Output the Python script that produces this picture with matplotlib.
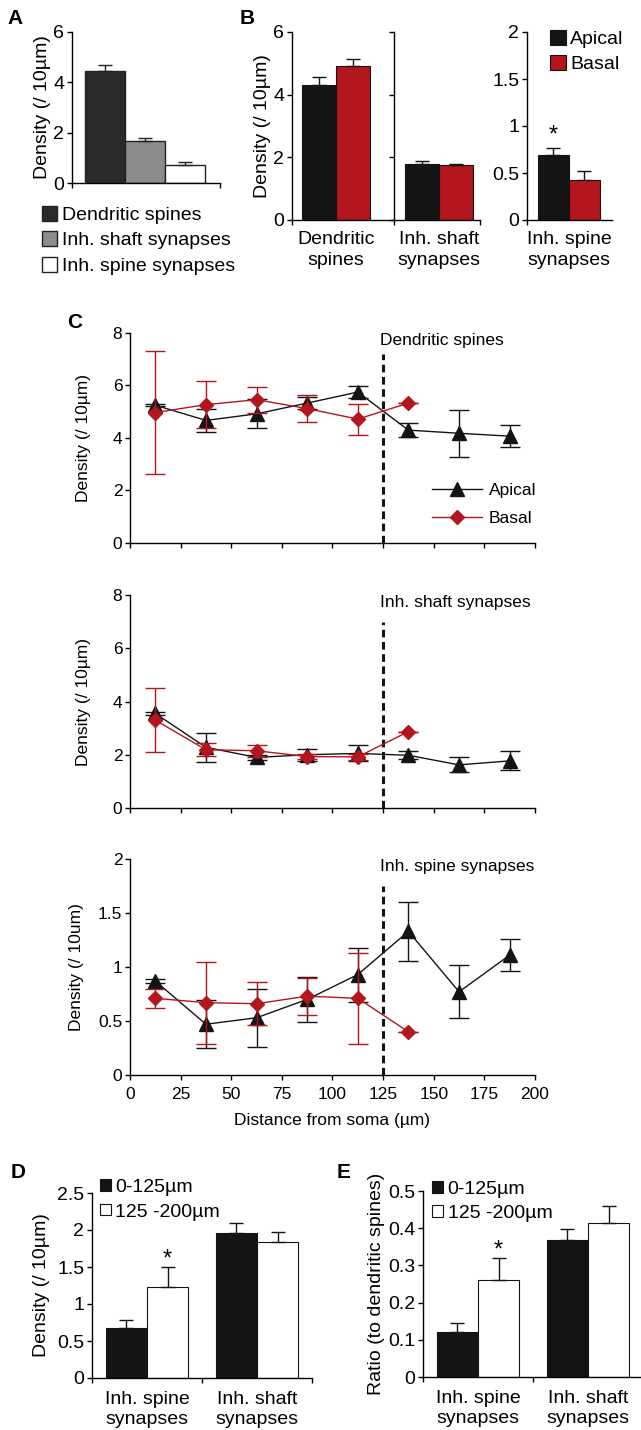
import matplotlib
matplotlib.use('Agg')
import matplotlib.pyplot as plt
from matplotlib.lines import Line2D
import numpy as np

plt.rcParams['font.family'] = ['Liberation Sans', 'DejaVu Sans']
plt.rcParams['font.size'] = 14
plt.rcParams['axes.linewidth'] = 1.0

# ---------------- data ----------------
# Panel A
a_categories = ['Dendritic spines', 'Inh. shaft synapses', 'Inh. spine synapses']
a_values = [4.45, 1.67, 0.73]
a_errors = [0.22, 0.10, 0.10]
a_colors = ['#2a2a2a', '#8c8c8c', '#ffffff']

# Panel B
b_groups = ['Dendritic\nspines', 'Inh. shaft\nsynapses', 'Inh. spine\nsynapses']
b_apical = [4.30, 1.80, 0.69]
b_apical_err = [0.25, 0.08, 0.08]
b_basal = [4.90, 1.75, 0.43]
b_basal_err = [0.23, 0.04, 0.09]

# Panel C
c_distance = [12.5, 37.5, 62.5, 87.5, 112.5, 137.5, 162.5, 187.5]
c_spines_apical = [5.25, 4.67, 4.92, 5.33, 5.75, 4.30, 4.18, 4.07]
c_spines_apical_err = [0.05, 0.45, 0.55, 0.22, 0.22, 0.27, 0.90, 0.41]
c_spines_basal = [4.97, 5.27, 5.46, 5.12, 4.72, 5.33]
c_spines_basal_err = [2.33, 0.90, 0.49, 0.51, 0.59, 0.0]

c_shaft_apical = [3.55, 2.28, 1.90, 2.00, 2.05, 1.98, 1.62, 1.77]
c_shaft_apical_err = [0.05, 0.55, 0.10, 0.22, 0.30, 0.15, 0.28, 0.36]
c_shaft_basal = [3.30, 2.19, 2.15, 1.93, 1.92, 2.87]
c_shaft_basal_err = [1.21, 0.25, 0.23, 0.10, 0.10, 0.0]

c_inh_apical = [0.87, 0.47, 0.53, 0.70, 0.93, 1.33, 0.77, 1.11]
c_inh_apical_err = [0.02, 0.22, 0.27, 0.21, 0.25, 0.27, 0.245, 0.145]
c_inh_basal = [0.71, 0.67, 0.66, 0.73, 0.71, 0.40]
c_inh_basal_err = [0.09, 0.38, 0.20, 0.17, 0.42, 0.0]
c_titles = ['Dendritic spines', 'Inh. shaft synapses', 'Inh. spine synapses']
c_boundary = 125

# Panels D, E
de_groups = ['Inh. spine\nsynapses', 'Inh. shaft\nsynapses']
de_labels = ['0-125\u00b5m', '125 -200\u00b5m']
d_near = [0.67, 1.96]
d_near_err = [0.11, 0.14]
d_far = [1.225, 1.835]
d_far_err = [0.275, 0.135]
e_near = [0.12, 0.368]
e_near_err = [0.026, 0.029]
e_far = [0.262, 0.415]
e_far_err = [0.057, 0.045]

BLACK = '#141414'
RED = '#b3161c'
W, H = 641, 1430
fig = plt.figure(figsize=(W / 100, H / 100), dpi=100)


def ax_px(l, t, r, b):
    return fig.add_axes([l / W, 1 - b / H, (r - l) / W, (b - t) / H])


def clean(ax, fs=14):
    ax.spines['top'].set_visible(False)
    ax.spines['right'].set_visible(False)
    ax.tick_params(direction='out', width=1.0, length=3.5, pad=2, labelsize=fs)


# ---------------- Panel A ----------------
axA = ax_px(72, 32, 220, 183)
clean(axA)
xa = np.arange(len(a_values))
bars = axA.bar(xa, a_values, width=1.0, color=a_colors, edgecolor='#222222', linewidth=1.0,
               yerr=[np.zeros(3), a_errors], capsize=5,
               error_kw=dict(ecolor='#222222', elinewidth=1, capthick=1))
axA.set_xlim(-0.83, 2.88)
axA.set_ylim(0, 6)
axA.set_yticks([0, 2, 4, 6])
axA.set_xticks([-0.83, 2.88])
axA.set_xticklabels([])
axA.set_ylabel('Density (/ 10\u00b5m)', labelpad=2)
for b, lab in zip(bars, a_categories):
    b.set_label(lab)
axA.legend(handles=list(bars), loc='upper left', bbox_to_anchor=(-0.205, -0.15), frameon=False,
           handlelength=0.8, handleheight=0.8, handletextpad=0.25, labelspacing=0.38, borderpad=0,
           borderaxespad=0, fontsize=14)

# ---------------- Panel B ----------------
b_specs = [
    (292, 394, -1.29, 1.70, (0, 6), [0, 2, 4, 6], True),
    (394, 480, -1.32, 1.21, (0, 6), [0, 2, 4, 6], False),
    (527, 612, -1.35, 1.39, (0, 2), [0, 0.5, 1, 1.5, 2], True),
]
axesB = []
for i, (l, r, x0, x1, ylim, yt, showlab) in enumerate(b_specs):
    ax = ax_px(l, 32, r, 220)
    clean(ax)
    ax.bar(-0.5, b_apical[i], width=1.0, color=BLACK, edgecolor=BLACK, linewidth=0.8,
           yerr=[[0], [b_apical_err[i]]], capsize=5,
           error_kw=dict(ecolor=BLACK, elinewidth=1, capthick=1), label='Apical')
    ax.bar(0.5, b_basal[i], width=1.0, color=RED, edgecolor=BLACK, linewidth=0.8,
           yerr=[[0], [b_basal_err[i]]], capsize=5,
           error_kw=dict(ecolor=BLACK, elinewidth=1, capthick=1), label='Basal')
    ax.set_xlim(x0, x1)
    ax.set_ylim(*ylim)
    ax.set_yticks(yt)
    if not showlab:
        ax.set_yticklabels([])
    else:
        ax.set_yticklabels([('%g' % v) for v in yt])
    if i == 1:
        ax.set_xticks([x0, x1])
    else:
        ax.set_xticks([x0])
    ax.set_xticklabels([])
    ax.text(0.0, -0.06, b_groups[i], transform=ax.get_xaxis_transform(), ha='center', va='top',
            fontsize=14, linespacing=1.25)
    axesB.append(ax)
axesB[0].set_ylabel('Density (/ 10\u00b5m)', labelpad=2)
axesB[2].text(-0.5, b_apical[2] + b_apical_err[2] + 0.01, '*', ha='center', va='bottom', fontsize=17)
axesB[2].legend(loc='upper left', bbox_to_anchor=(0.27, 1.01), frameon=False, handlelength=0.8,
                handleheight=0.8, handletextpad=0.25, labelspacing=0.33, borderpad=0, borderaxespad=0,
                fontsize=14)

# ---------------- Panel C ----------------
CFS = 12.5
c_sets = [
    (c_spines_apical, c_spines_apical_err, c_spines_basal, c_spines_basal_err, 8, [0, 2, 4, 6, 8]),
    (c_shaft_apical, c_shaft_apical_err, c_shaft_basal, c_shaft_basal_err, 8, [0, 2, 4, 6, 8]),
    (c_inh_apical, c_inh_apical_err, c_inh_basal, c_inh_basal_err, 2, [0, 0.5, 1, 1.5, 2]),
]
c_pos = [(333, 543), (595, 808), (859, 1075)]
c_ylabels = ['Density (/ 10\u00b5m)', 'Density (/ 10\u00b5m)', 'Density (/ 10um)']
c_ylabpad = [16, 16, 10]
c_dash_top = [0.9, 0.875, 0.875]
for k, (ap, ape, bs, bse, ymax, yt) in enumerate(c_sets):
    t, b = c_pos[k]
    ax = ax_px(130, t, 535, b)
    clean(ax, CFS)
    ax.tick_params(axis='x', pad=5)
    ax.errorbar(c_distance, ap, yerr=ape, color=BLACK, marker='^', markersize=10.5, linewidth=1.0,
                elinewidth=1.0, capsize=7, capthick=1.0, zorder=3)
    nb = len(bs)
    ax.errorbar(c_distance[:nb], bs, yerr=bse, color=RED, marker='D', markersize=7, linewidth=1.0,
                elinewidth=1.0, capsize=7, capthick=1.0, zorder=4)
    ax.axvline(c_boundary, ymin=0, ymax=c_dash_top[k], color=BLACK, linestyle=(0, (2.5, 1.5)),
               linewidth=2.2)
    ax.set_xlim(0, 200)
    ax.set_ylim(0, ymax)
    ax.set_yticks(yt)
    ax.set_yticklabels([('%g' % v) for v in yt])
    ax.set_xticks(np.arange(0, 201, 25))
    if k < 2:
        ax.set_xticklabels([])
    else:
        ax.set_xlabel('Distance from soma (\u00b5m)', labelpad=8, fontsize=CFS)
    ax.set_ylabel(c_ylabels[k], labelpad=c_ylabpad[k], fontsize=CFS)
    ax.text(c_boundary - 1.5, 0.965 * ymax, c_titles[k], ha='left', va='center', fontsize=CFS)
    if k == 0:
        handles = [Line2D([], [], color=BLACK, marker='^', markersize=10.5, linewidth=1.0),
                   Line2D([], [], color=RED, marker='D', markersize=7, linewidth=1.0)]
        ax.legend(handles, ['Apical', 'Basal'], loc='upper left', bbox_to_anchor=(0.745, 0.285),
                  frameon=False, handlelength=2.9, handletextpad=0.4, labelspacing=0.75,
                  borderpad=0, borderaxespad=0, fontsize=CFS)


# ---------------- Panels D, E ----------------
def grouped(ax, near, near_err, far, far_err, ymax, yt, ylabel, star_y, ylabpad, leg_anchor):
    clean(ax)
    x = np.arange(len(near))
    w = 0.375
    ax.bar(x - w / 2, near, width=w, color=BLACK, edgecolor=BLACK, linewidth=0.8,
           yerr=[np.zeros(len(near)), near_err], capsize=5,
           error_kw=dict(ecolor=BLACK, elinewidth=1, capthick=1), label=de_labels[0])
    ax.bar(x + w / 2, far, width=w, color='white', edgecolor=BLACK, linewidth=0.8,
           yerr=[np.zeros(len(far)), far_err], capsize=5,
           error_kw=dict(ecolor=BLACK, elinewidth=1, capthick=1), label=de_labels[1])
    ax.set_xlim(-0.5, 1.5)
    ax.set_xticks([-0.5, 0.5, 1.5])
    ax.set_xticklabels([])
    ax.set_ylim(0, ymax)
    ax.set_yticks(yt)
    ax.set_yticklabels([('%g' % v) for v in yt])
    for i, g in enumerate(de_groups):
        ax.text(x[i], -0.07, g, transform=ax.get_xaxis_transform(), ha='center', va='top',
                fontsize=14, linespacing=1.25)
    ax.text(x[0] + w / 2, star_y, '*', ha='center', va='center', fontsize=17)
    ax.set_ylabel(ylabel, labelpad=ylabpad)
    ax.legend(loc='upper left', bbox_to_anchor=leg_anchor, frameon=False, handlelength=0.55,
              handleheight=0.55, handletextpad=0.25, labelspacing=0.38, borderpad=0, borderaxespad=0,
              fontsize=14)


axD = ax_px(92, 1193, 312, 1378)
grouped(axD, d_near, d_near_err, d_far, d_far_err, 2.5, [0, 0.5, 1, 1.5, 2, 2.5],
        'Density (/ 10\u00b5m)', 1.6, 5, (0.036, 1.075))
axE = ax_px(423, 1191, 643, 1377)
grouped(axE, e_near, e_near_err, e_far, e_far_err, 0.5, [0, 0.1, 0.2, 0.3, 0.4, 0.5],
        'Ratio (to dendritic spines)', 0.34, 2, (0.041, 1.055))

# panel letters
for lab, x, y in [('A', 7, 19), ('B', 240, 19), ('C', 67, 322), ('D', 11, 1172), ('E', 337, 1172)]:
    fig.text(x / W, 1 - y / H, lab, fontsize=15, fontweight='bold', ha='left', va='center')

fig.savefig('out.png', dpi=100)
